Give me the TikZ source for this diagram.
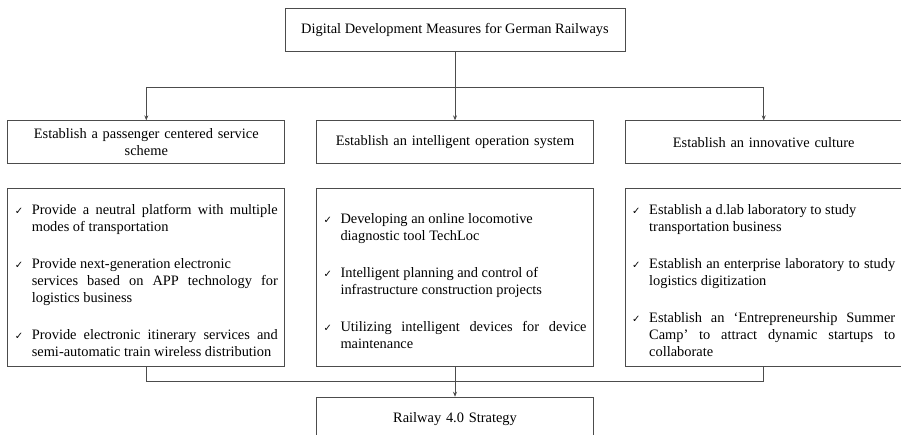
\documentclass[tikz,border=0pt]{standalone}
\usepackage{fontspec}
\setmainfont{Liberation Serif}
\newfontfamily\symfont{DejaVu Sans}
\usepackage{tikz}
\usetikzlibrary{arrows.meta,positioning}

\newcommand{\listsetup}{\hyphenpenalty=10000 \exhyphenpenalty=10000 \emergencystretch=20pt \parskip=0pt\relax}
\newcommand{\tickitem}[1]{\par\noindent\hangindent=17pt\hangafter=1\makebox[17pt][l]{\symfont\fontsize{10}{10}\selectfont ✓}#1\par\parskip=20pt\relax}

\begin{document}
\begin{tikzpicture}[>={Stealth[length=5pt,width=4pt]}, node distance=24pt and 31pt, line width=0.7pt, draw=black!70,
    every node/.style={draw=black!70, line width=0.7pt, align=center, inner sep=0pt, font=\fontsize{14.4}{17.5}\selectfont},
    box/.style={minimum height=43pt, text width=262pt, inner xsep=7.5pt},
    listbox/.style={minimum height=178pt, text width=263pt, inner xsep=7pt, align=justify, font=\fontsize{14.4}{17}\selectfont}]
    \useasboundingbox (0,0) rectangle (901pt,-435pt);
    \node (title) at (455pt,-29.5pt) [minimum width=340pt, minimum height=43pt] {Digital Development Measures for German Railways};
    \node (ops) [box, below=69pt of title] {Establish an intelligent operation system};
    \node (pass) [box, left=of ops] {Establish a passenger centered service\\scheme};
    \node (culture) [box, right=of ops] {Establish an innovative culture};
    \node (passlist) [listbox, below=of pass] {\listsetup\tickitem{Provide a neutral platform with multiple modes of transportation}\tickitem{Provide next-generation electronic\newline services based on APP technology for logistics business}\tickitem{Provide electronic itinerary services and semi-automatic train wireless distribution}};
    \node (opslist) [listbox, below=of ops] {\listsetup\tickitem{Developing an online locomotive\newline diagnostic tool TechLoc}\tickitem{Intelligent planning and control of\newline infrastructure construction projects}\tickitem{Utilizing intelligent devices for device maintenance}};
    \node (culturelist) [listbox, below=of culture] {\listsetup\tickitem{Establish a d.lab laboratory to study\newline transportation business}\tickitem{Establish an enterprise laboratory to study logistics digitization}\tickitem{Establish an `Entrepreneurship Summer Camp' to attract dynamic startups to collaborate}};
    \node (rail) [box, below=30pt of opslist] {Railway 4.0 Strategy};
    \coordinate [below=36pt of title] (split);
    \coordinate [below=15pt of passlist] (joinL);
    \coordinate [below=15pt of culturelist] (joinR);
    \draw (title) -- (split);
    \draw[->] (split) -- (ops);
    \draw[->] (split) -| (pass);
    \draw[->] (split) -| (culture);
    \draw (passlist) -- (joinL) -- (joinR) -- (culturelist);
    \draw[->] (opslist) -- (rail);
  \end{tikzpicture}
\end{document}
